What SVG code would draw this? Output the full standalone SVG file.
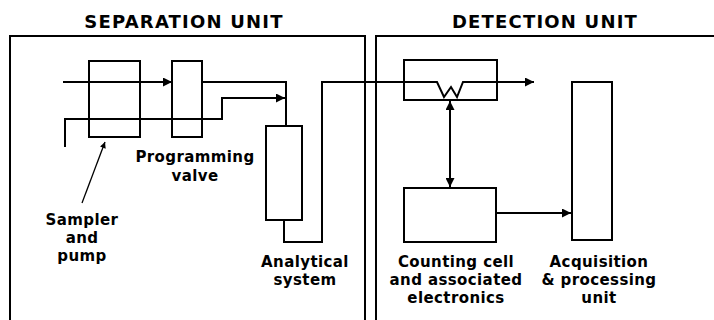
<svg xmlns="http://www.w3.org/2000/svg" width="714" height="320" viewBox="0 0 714 320">
<style>
.ln{fill:none;stroke:#000;stroke-width:2;stroke-linejoin:miter}
.bx{fill:none;stroke:#000;stroke-width:2}
.t{font-family:"DejaVu Sans","Liberation Sans",sans-serif;font-weight:bold;font-size:15px;letter-spacing:0.4px;text-anchor:middle;fill:#000}
.h{font-family:"DejaVu Sans","Liberation Sans",sans-serif;font-weight:bold;font-size:18px;letter-spacing:1.2px;text-anchor:middle;fill:#000}
</style>
<defs>
<marker id="ah" viewBox="0 0 10 10" refX="10" refY="5" markerWidth="10" markerHeight="9" markerUnits="userSpaceOnUse" orient="auto-start-reverse">
<path d="M0,0 L10,5 L0,10 Z" fill="#000"/>
</marker>
<marker id="sm" viewBox="0 0 10 10" refX="10" refY="5" markerWidth="7" markerHeight="6" markerUnits="userSpaceOnUse" orient="auto">
<path d="M0,0 L10,5 L0,10 Z" fill="#000"/>
</marker>
</defs>
<rect width="714" height="320" fill="#fff"/>

<g id="separation-unit">
<path class="ln" d="M10,320 V36 H365 V320"/>
<text class="h" x="184" y="28">SEPARATION UNIT</text>
</g>
<g id="detection-unit">
<path class="ln" d="M376,320 V36 H714"/>
<text class="h" x="545" y="28">DETECTION UNIT</text>
</g>

<g id="sampler">
<rect class="bx" x="89" y="61" width="51" height="76"/>
<text class="t" x="82" y="225">Sampler</text>
<text class="t" x="82" y="243">and</text>
<text class="t" x="82" y="261">pump</text>
</g>
<g id="valve">
<rect class="bx" x="172" y="61" width="30" height="76"/>
<text class="t" x="195" y="162">Programming</text>
<text class="t" x="195" y="181">valve</text>
</g>
<g id="analytical">
<rect class="bx" x="266" y="126" width="36" height="94"/>
<text class="t" x="305" y="267">Analytical</text>
<text class="t" x="305" y="285">system</text>
</g>
<g id="detector">
<rect class="bx" x="404" y="60" width="93" height="40"/>
</g>
<g id="counting">
<rect class="bx" x="404" y="188" width="92" height="54"/>
<text class="t" x="456" y="267">Counting cell</text>
<text class="t" x="456" y="285">and associated</text>
<text class="t" x="456" y="303">electronics</text>
</g>
<g id="acquisition">
<rect class="bx" x="572" y="82" width="40" height="158"/>
<text class="t" x="599" y="267">Acquisition</text>
<text class="t" x="599" y="285">&amp; processing</text>
<text class="t" x="599" y="303">unit</text>
</g>

<g id="connectors">
<path class="ln" d="M63,82 H172" marker-end="url(#ah)"/>
<path class="ln" d="M202,82 H286 V126"/>
<path class="ln" d="M65,147 V119 H222 V98 H285" marker-end="url(#ah)"/>
<path class="ln" d="M284,220 V242 H322 V82 H437 L444,97 L451,87 L457,97 L463,82 H534" marker-end="url(#ah)"/>
<path class="ln" d="M450,101 V187" marker-start="url(#ah)" marker-end="url(#ah)"/>
<path class="ln" d="M496,213 H571" marker-end="url(#ah)"/>
<path d="M82,203 L105,142" stroke="#000" stroke-width="1.3" fill="none" marker-end="url(#sm)"/>
</g>
</svg>
